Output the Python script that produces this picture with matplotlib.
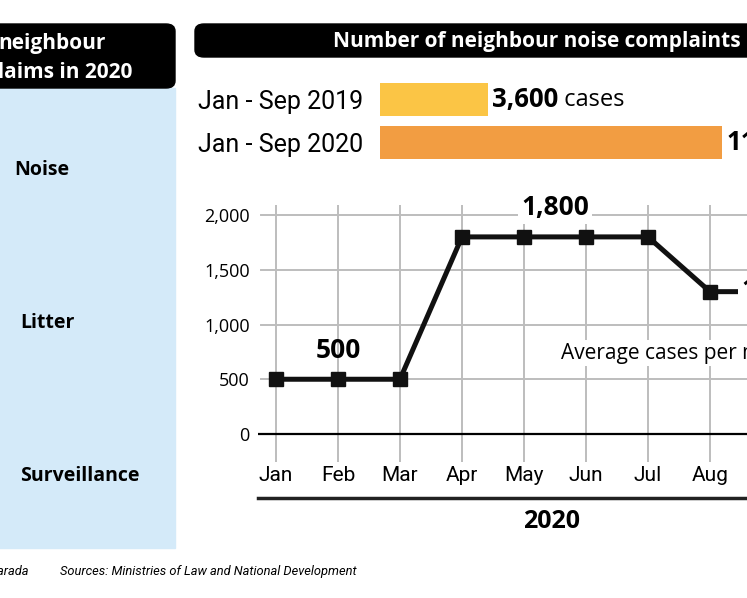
import matplotlib
matplotlib.use('Agg')
import matplotlib.pyplot as plt
from matplotlib.patches import FancyBboxPatch, Rectangle
from matplotlib.lines import Line2D

# data
months = ['Jan', 'Feb', 'Mar', 'Apr', 'May', 'Jun', 'Jul', 'Aug', 'Sep']
avg_cases = [500, 500, 500, 1800, 1800, 1800, 1800, 1300, 1300]
period_labels = ['Jan - Sep 2019', 'Jan - Sep 2020']
period_totals = [3600, 11400]
period_colors = ['#FBC545', '#F29D42']
y_ticks = [0, 500, 1000, 1500, 2000]
claim_types = ['Noise', 'Litter', 'Surveillance']

NARROW = 'Roboto'
plt.rcParams['font.family'] = ['Open Sans', 'DejaVu Sans']

W, H = 747, 598
fig = plt.figure(figsize=(W / 100, H / 100), dpi=100)


def fx(px):
    return px / W


def fy(py):
    return 1 - py / H


# left panel
fig.add_artist(Rectangle((fx(-10), fy(548)), fx(185), fy(88) - fy(548),
                         transform=fig.transFigure, color='#D4EAF9', zorder=0))
fig.add_artist(FancyBboxPatch((fx(-20), fy(88)), fx(195), fy(24) - fy(88),
                              boxstyle='round,pad=0,rounding_size=0.012',
                              transform=fig.transFigure, color='black', zorder=1))
fig.text(fx(106), fy(44), 'neighbour', ha='right', va='center', color='white',
         fontsize=15, fontweight='bold')
fig.text(fx(132), fy(73), 'claims in 2020', ha='right', va='center', color='white',
         fontsize=15, fontweight='bold')
for lab, (x, y) in zip(claim_types, [(14, 170), (20, 323), (20, 476)]):
    fig.text(fx(x), fy(y), lab, ha='left', va='center', fontsize=14, fontweight='bold')

# right header
fig.add_artist(FancyBboxPatch((fx(195), fy(57)), fx(600), fy(24) - fy(57),
                              boxstyle='round,pad=0,rounding_size=0.012',
                              transform=fig.transFigure, color='black', zorder=1))
fig.text(fx(333), fy(42), 'Number of neighbour noise complaints', ha='left', va='center',
         color='white', fontsize=15, fontweight='bold')

# bars
bx = fig.add_axes([fx(380), fy(164), fx(800 - 380), fy(78) - fy(164)])
bx.barh(range(2), period_totals, height=0.79, color=period_colors)
bx.set_xlim(0, 3600 / 108 * (800 - 380))
bx.set_ylim(1.5, -0.5)
bx.set_yticks(range(2))
bx.set_yticklabels(period_labels, fontsize=18, family=NARROW)
bx.tick_params(length=0, pad=12)
bx.set_xticks([])
for s in bx.spines.values():
    s.set_visible(False)
t_val = bx.text(period_totals[0] + 120, 0, '3,600', va='center', ha='left', fontsize=18.5,
                fontweight='bold')
bx.annotate(' cases', xy=(1, 0.5), xycoords=t_val, va='center', ha='left', fontsize=17)
bx.text(period_totals[1] + 150, 1, '11,400', va='center', ha='left', fontsize=18.5,
        fontweight='bold')

# line chart
ax = fig.add_axes([fx(258), fy(462), fx(800 - 258), fy(205) - fy(462)])
x = list(range(len(months)))
ax.set_xlim(-0.29, -0.29 + (800 - 258) / 62)
ax.set_ylim(-(462 - 434) / 0.1095, (434 - 205) / 0.1095)
for v in y_ticks[1:]:
    ax.axhline(v, xmin=0.005, color='#BDBDBD', lw=1.4, zorder=1)
for xi in x:
    ax.axvline(xi, color='#BDBDBD', lw=1.4, zorder=1)
ax.axhline(0, color='black', lw=1.6, zorder=2)
ax.plot(x, avg_cases, color='#111111', lw=3.6, marker='s', markersize=10, zorder=4)
ax.set_yticks(y_ticks)
ax.set_yticklabels(['{:,}'.format(v) for v in y_ticks], fontsize=13)
ax.set_xticks(x)
ax.set_xticklabels(months, fontsize=15, family=NARROW)
ax.tick_params(length=0, axis='y', pad=6)
ax.tick_params(length=0, axis='x', pad=3)
for s in ax.spines.values():
    s.set_visible(False)

box = dict(facecolor='white', edgecolor='none', pad=2)
ax.text(1, 767, '500', ha='center', va='center', fontsize=19, fontweight='bold', zorder=5)
ax.text(4.5, (434 - 208) / 0.1095, '1,800', ha='center', va='center', fontsize=19,
        fontweight='bold', bbox=box, zorder=5)
ax.text(7.5, (434 - 290) / 0.1095, '1,300', ha='left', va='center', fontsize=19,
        fontweight='bold', bbox=box, zorder=5)
ax.text(4.6, (434 - 353) / 0.1095, 'Average cases per month', ha='left', va='center',
        fontsize=15, bbox=box, zorder=5)

fig.add_artist(Line2D([fx(258), fx(800)], [fy(498), fy(498)], transform=fig.transFigure,
                      color='#222222', lw=2.5))
fig.text(fx(552), fy(521), '2020', ha='center', va='center', fontsize=18, fontweight='bold')

fig.text(fx(28), fy(572), 'Graphic: Parada', ha='right', va='center', fontsize=9.3,
         style='italic', family=NARROW)
fig.text(fx(60), fy(572), 'Sources: Ministries of Law and National Development', ha='left',
         va='center', fontsize=9.3, style='italic', family=NARROW)

fig.savefig('out.png', dpi=100)
